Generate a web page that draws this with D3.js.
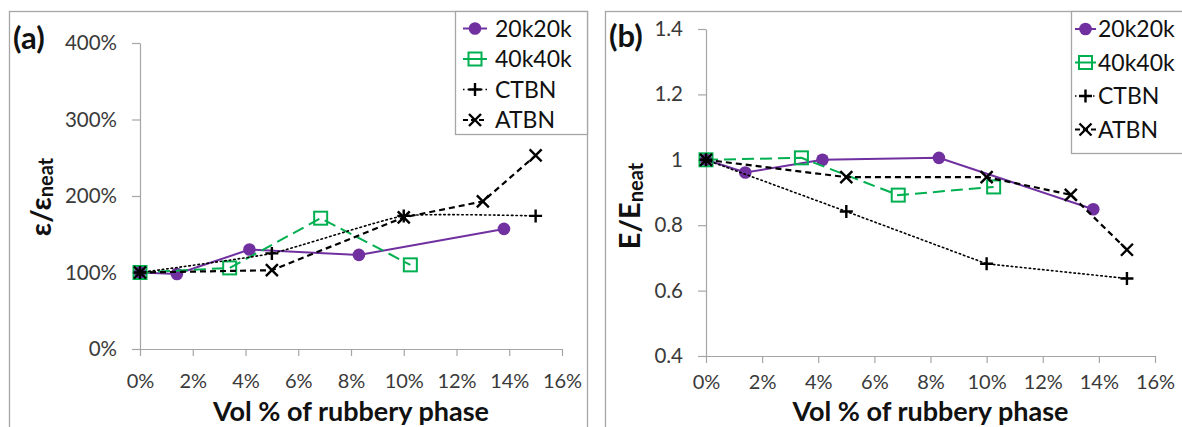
<!DOCTYPE html>
<html><head><meta charset="utf-8">
<script src="https://cdn.jsdelivr.net/npm/d3@7"></script>
<style>
body{margin:0;background:#fff}
svg{display:block}
text{font-family:Lato,"Open Sans",sans-serif}
</style>
</head><body>
<svg id="c" width="1182" height="427"></svg>
<script>
// ---- data ----
const seriesNames = ["20k20k", "40k40k", "CTBN", "ATBN"];
const xTicks = [0, 2, 4, 6, 8, 10, 12, 14, 16];
const yTicksA = [0, 100, 200, 300, 400];
const yTicksB = [0.4, 0.6, 0.8, 1.0, 1.2, 1.4];

const vol20k20k = [0, 1.4, 4.15, 8.3, 13.8];
const vol40k40k = [0, 3.4, 6.85, 10.25];
const volCTBN   = [0, 5, 10, 15];
const volATBN   = [0, 5, 10, 13, 15];

// (a) strain ratio, %
const strain20k20k = [100, 98, 130, 123, 157];
const strain40k40k = [100, 106, 171, 110];
const strainCTBN   = [100, 125, 174, 174];
const strainATBN   = [100, 103, 172, 193, 253];

// (b) modulus ratio
const mod20k20k = [1.0, 0.961, 1.0, 1.006, 0.849];
const mod40k40k = [1.0, 1.006, 0.892, 0.917];
const modCTBN   = [1.0, 0.842, 0.682, 0.637];
const modATBN   = [1.0, 0.947, 0.947, 0.893, 0.725];

// ---- styles ----
const styles = {
  "20k20k": {color: "#7030A0", dash: null, width: 2, marker: "circle"},
  "40k40k": {color: "#00B050", dash: "12,6", width: 2, marker: "square"},
  "CTBN":   {color: "#000", dash: "1.5,3", width: 1.6, marker: "plus"},
  "ATBN":   {color: "#000", dash: "6,4", width: 2.2, marker: "cross"}
};

const svg = d3.select("#c");
const AXIS = "#a6a6a6", LABEL = "#3a3a3a";

function drawMarker(g, type, x, y) {
  const st = styles[type];
  if (st.marker === "circle") {
    g.append("circle").attr("cx", x).attr("cy", y).attr("r", 6.3).attr("fill", st.color);
  } else if (st.marker === "square") {
    g.append("rect").attr("x", x - 6.5).attr("y", y - 6.5).attr("width", 13).attr("height", 13)
      .attr("fill", "none").attr("stroke", st.color).attr("stroke-width", 2);
  } else if (st.marker === "plus") {
    g.append("path").attr("d", `M${x-6.5},${y}H${x+6.5}M${x},${y-6.5}V${y+6.5}`)
      .attr("stroke", "#000").attr("stroke-width", 2.4).attr("fill", "none");
  } else {
    g.append("path").attr("d", `M${x-6},${y-6}L${x+6},${y+6}M${x-6},${y+6}L${x+6},${y-6}`)
      .attr("stroke", "#000").attr("stroke-width", 2.4).attr("fill", "none");
  }
}

function panel(cfg) {
  const g = svg.append("g");
  // border
  g.append("rect").attr("x", cfg.box[0] + 0.5).attr("y", cfg.box[1] + 0.5)
    .attr("width", cfg.box[2]).attr("height", cfg.box[3])
    .attr("fill", "none").attr("stroke", AXIS).attr("stroke-width", 1.3);

  const x = d3.scaleLinear().domain([0, 16]).range(cfg.xr);
  const y = d3.scaleLinear().domain(cfg.yd).range(cfg.yr);

  const xa = g.append("g").attr("transform", `translate(0,${cfg.yr[0]})`)
    .call(d3.axisBottom(x).tickValues(xTicks).tickSize(7).tickSizeOuter(0).tickFormat(d => d + "%"));
  xa.selectAll("text").attr("y", cfg.xLabOff).attr("dy", "0.36em")
    .attr("font-size", 20).attr("fill", LABEL).attr("font-family", "Lato");
  const ya = g.append("g").attr("transform", `translate(${cfg.xr[0]},0)`)
    .call(d3.axisLeft(y).tickValues(cfg.yTicks).tickSize(8).tickSizeOuter(0).tickPadding(15).tickFormat(cfg.yFmt));
  ya.selectAll("text").attr("font-size", 20.5).attr("fill", LABEL).attr("font-family", "Lato");
  g.selectAll(".domain, .tick line").attr("stroke", AXIS).attr("stroke-width", 1.2);

  // series
  cfg.series.forEach(s => {
    const st = styles[s.name];
    const pts = s.xs.map((v, i) => [x(v), y(s.ys[i])]);
    const line = d3.line().curve(s.smooth ? d3.curveCardinal.tension(0.55) : d3.curveLinear);
    g.append("path").attr("d", line(pts)).attr("fill", "none")
      .attr("stroke", st.color).attr("stroke-width", st.width)
      .attr("stroke-dasharray", st.dash).attr("stroke-linecap", s.name === "CTBN" ? "round" : "butt");
    const mg = g.append("g");
    pts.forEach(p => drawMarker(mg, s.name, p[0], p[1]));
  });

  // panel letter
  g.append("text").attr("x", cfg.letter[0]).attr("y", cfg.letter[1])
    .attr("font-size", 31).attr("font-weight", 700).attr("fill", "#111").text(cfg.letterText);

  // y title
  const yt = g.append("text").attr("transform", `translate(${cfg.yTitle[0]},${cfg.yTitle[1]}) rotate(-90)`)
    .attr("text-anchor", "middle").attr("font-weight", 700).attr("fill", "#111");
  yt.append("tspan").attr("font-size", 29).text(cfg.yMain);
  yt.append("tspan").attr("font-size", 20).attr("dy", cfg.subDy).text("neat");

  // x title
  g.append("text").attr("x", (cfg.xr[0] + cfg.xr[1]) / 2).attr("y", cfg.xTitleY)
    .attr("text-anchor", "middle").attr("font-size", 27).attr("font-weight", 700).attr("fill", "#111")
    .text("Vol % of rubbery phase");

  // legend
  const L = cfg.legend;
  g.append("rect").attr("x", L.box[0] + 0.5).attr("y", L.box[1] + 0.5).attr("width", L.box[2]).attr("height", L.box[3])
    .attr("fill", "#fff").attr("stroke", AXIS).attr("stroke-width", 1.3);
  seriesNames.forEach((n, i) => {
    const st = styles[n];
    const cy = L.y0 + i * L.dy;
    g.append("path").attr("d", `M${L.lx0},${cy}H${L.lx1}`).attr("stroke", st.color)
      .attr("stroke-width", st.width).attr("stroke-dasharray", n === "CTBN" ? "1.5,3" : n === "ATBN" ? "5,3" : null);
    drawMarker(g, n, (L.lx0 + L.lx1) / 2, cy);
    g.append("text").attr("x", L.tx).attr("y", cy).attr("dy", "0.36em")
      .attr("font-size", 23).attr("fill", "#111").text(n);
  });
}

panel({
  box: [9, 11, 578, 440],
  xr: [140, 562], yd: [0, 400], yr: [349, 43], yTicks: yTicksA, yFmt: d => d + "%",
  xLabOff: 32, xTitleY: 421,
  letter: [13, 49], letterText: "(a)",
  yTitle: [51, 197], yMain: "ε/ε", subDy: 2,
  series: [
    {name: "20k20k", xs: vol20k20k, ys: strain20k20k},
    {name: "40k40k", xs: vol40k40k, ys: strain40k40k},
    {name: "CTBN", xs: volCTBN, ys: strainCTBN, smooth: true},
    {name: "ATBN", xs: volATBN, ys: strainATBN}
  ],
  legend: {box: [455, 11, 132, 123], y0: 28.5, dy: 30.5, lx0: 463, lx1: 487, tx: 495}
});

panel({
  box: [605, 11, 620, 440],
  xr: [706, 1155], yd: [0.4, 1.4], yr: [356, 29], yTicks: yTicksB,
  yFmt: d => String(Math.round(d * 10) / 10),
  xLabOff: 26, xTitleY: 421,
  letter: [609, 47], letterText: "(b)",
  yTitle: [640, 206], yMain: "E/E", subDy: 3,
  series: [
    {name: "20k20k", xs: vol20k20k, ys: mod20k20k},
    {name: "40k40k", xs: vol40k40k, ys: mod40k40k},
    {name: "CTBN", xs: volCTBN, ys: modCTBN},
    {name: "ATBN", xs: volATBN, ys: modATBN}
  ],
  legend: {box: [1071, 11, 200, 142], y0: 29, dy: 33.5, lx0: 1075, lx1: 1096, tx: 1098}
});
</script>
</body></html>
